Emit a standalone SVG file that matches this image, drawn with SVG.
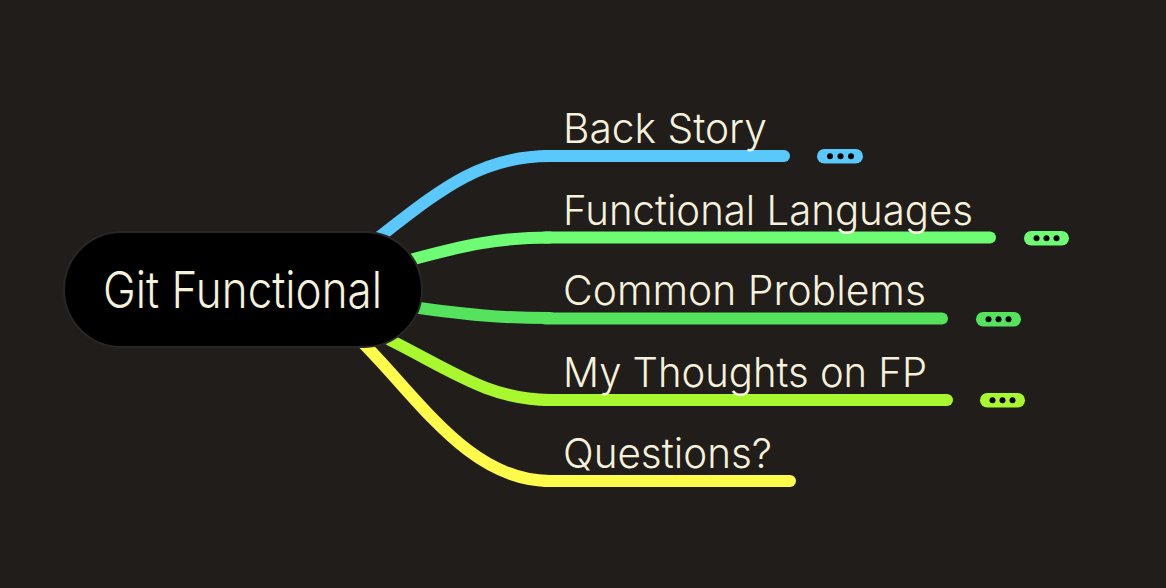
<svg xmlns="http://www.w3.org/2000/svg" width="1166" height="588" viewBox="0 0 1166 588">
  <style>
    .bg { fill: #201d1b; }
    .label { font-family: Inter, Roboto, "Liberation Sans", sans-serif; font-weight: 300; fill: #f5f2dc; }
    .topic { font-size: 41px; }
    .root { font-size: 51px; }
    .conn { fill: none; stroke-width: 12; stroke-linecap: round; }
    .under { fill: none; stroke-width: 12; stroke-linecap: round; }
    .dot { fill: #000; }
  </style>
  <rect class="bg" x="0" y="0" width="1166" height="588"/>

  <g id="connectors">
    <path class="conn" stroke="#5ac8fa" d="M 378 238 C 440 190, 480 156, 550 156"/>
    <path class="conn" stroke="#6dfc74" d="M 410 260 C 465 245, 500 237.5, 550 237.5"/>
    <path class="conn" stroke="#55e35e" d="M 412 307 C 470 315, 500 318, 550 318"/>
    <path class="conn" stroke="#a9f72f" d="M 390 340 C 450 370, 490 400, 550 400"/>
    <path class="conn" stroke="#fffb4a" d="M 362 342 C 420 400, 470 481, 550 481"/>
  </g>

  <g id="root">
    <rect x="64" y="232" width="358" height="115" rx="57.5" ry="57.5" fill="#000" stroke="#2a2624" stroke-width="2"/>
    <text class="label root" x="103" y="308" textLength="279" lengthAdjust="spacingAndGlyphs">Git Functional</text>
  </g>

  <g id="back-story">
    <line class="under" stroke="#5ac8fa" x1="545" y1="156" x2="784" y2="156"/>
    <text class="label topic" x="563" y="143" textLength="204" lengthAdjust="spacingAndGlyphs">Back Story</text>
    <rect x="817" y="149" width="46" height="14.5" rx="7.25" fill="#5ac8fa"/>
    <circle class="dot" cx="830" cy="156.2" r="3"/>
    <circle class="dot" cx="840.5" cy="156.2" r="3"/>
    <circle class="dot" cx="851" cy="156.2" r="3"/>
  </g>

  <g id="functional-languages">
    <line class="under" stroke="#6dfc74" x1="545" y1="237.5" x2="990" y2="237.5"/>
    <text class="label topic" x="563" y="224.5" textLength="410" lengthAdjust="spacingAndGlyphs">Functional Languages</text>
    <rect x="1024" y="231" width="45" height="14.5" rx="7.25" fill="#6dfc74"/>
    <circle class="dot" cx="1036.5" cy="238.2" r="3"/>
    <circle class="dot" cx="1046.5" cy="238.2" r="3"/>
    <circle class="dot" cx="1056.5" cy="238.2" r="3"/>
  </g>

  <g id="common-problems">
    <line class="under" stroke="#55e35e" x1="545" y1="318.5" x2="942" y2="318.5"/>
    <text class="label topic" x="563" y="305" textLength="363" lengthAdjust="spacingAndGlyphs">Common Problems</text>
    <rect x="976" y="312" width="45" height="14.5" rx="7.25" fill="#55e35e"/>
    <circle class="dot" cx="988.5" cy="319.2" r="3"/>
    <circle class="dot" cx="998.5" cy="319.2" r="3"/>
    <circle class="dot" cx="1008.5" cy="319.2" r="3"/>
  </g>

  <g id="my-thoughts">
    <line class="under" stroke="#a9f72f" x1="545" y1="400" x2="947" y2="400"/>
    <text class="label topic" x="563" y="387" textLength="364" lengthAdjust="spacingAndGlyphs">My Thoughts on FP</text>
    <rect x="980" y="393" width="45" height="14.5" rx="7.25" fill="#a9f72f"/>
    <circle class="dot" cx="992.5" cy="400.2" r="3"/>
    <circle class="dot" cx="1002.5" cy="400.2" r="3"/>
    <circle class="dot" cx="1012.5" cy="400.2" r="3"/>
  </g>

  <g id="questions">
    <line class="under" stroke="#fffb4a" x1="545" y1="481" x2="790" y2="481"/>
    <text class="label topic" x="563" y="468" textLength="209" lengthAdjust="spacingAndGlyphs">Questions?</text>
  </g>
</svg>
